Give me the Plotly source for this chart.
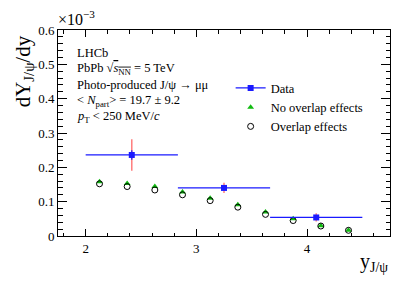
import plotly.graph_objects as go

# Data (values in units of 1e-3)
data_x = [2.4167, 3.25, 4.0833]
data_xerr = [0.4167, 0.4167, 0.4167]
data_y = [0.236, 0.140, 0.054]
data_stat = [0.014, 0.006, 0.004]
data_syst = [0.046, 0.015, 0.012]

model_x = [2.125, 2.375, 2.625, 2.875, 3.125, 3.375, 3.625, 3.875, 4.125, 4.375]
no_overlap_y = [0.158, 0.153, 0.144, 0.128, 0.110, 0.091, 0.070, 0.050, 0.030, 0.017]
overlap_y = [0.152, 0.144, 0.134, 0.120, 0.103, 0.084, 0.063, 0.045, 0.029, 0.0166]

FONT = "Liberation Serif"
BLUE = "#1a1aff"
RED = "rgba(255,70,70,0.7)"
GREEN = "#11bb11"

fig = go.Figure()

# legend proxy for Data (line + marker, like the ROOT legend entry)
fig.add_trace(go.Scatter(
    x=[None], y=[None], mode="lines+markers", name="Data",
    line=dict(color=BLUE, width=1.2),
    marker=dict(symbol="square", size=6, color=BLUE)))

# systematic (red) error bars
fig.add_trace(go.Scatter(
    x=data_x, y=data_y, mode="markers", showlegend=False,
    marker=dict(size=1, color="rgba(0,0,0,0)"),
    error_y=dict(type="data", array=data_syst, color=RED, thickness=1.5, width=0),
    hoverinfo="skip"))

fig.add_trace(go.Scatter(
    x=model_x, y=no_overlap_y, mode="markers", name="No overlap effects",
    marker=dict(symbol="triangle-up", size=6, color=GREEN, line=dict(width=0))))

fig.add_trace(go.Scatter(
    x=model_x, y=overlap_y, mode="markers", name="Overlap effects",
    marker=dict(symbol="circle-open", size=6, color="black", line=dict(width=1, color="black"))))

# data with x bin widths and stat errors
fig.add_trace(go.Scatter(
    x=data_x, y=data_y, mode="markers", name="Data", showlegend=False,
    marker=dict(symbol="square", size=6, color=BLUE),
    error_x=dict(type="data", array=data_xerr, color=BLUE, thickness=1.2, width=0),
    error_y=dict(type="data", array=data_stat, color=BLUE, thickness=1.2, width=0)))

axis_common = dict(
    showline=True, linecolor="black", linewidth=1, mirror="allticks",
    ticks="inside", showgrid=False, zeroline=False,
    tickfont=dict(family=FONT, size=13, color="black"),
    tickcolor="black",
)

fig.update_xaxes(range=[1.75, 4.75], dtick=1, tick0=0, ticklen=7,
                 minor=dict(dtick=0.2, tick0=0, ticklen=3.5, ticks="inside", tickcolor="black"),
                 **axis_common)
fig.update_yaxes(range=[0, 0.6], dtick=0.1, tick0=0, ticklen=9,
                 minor=dict(dtick=0.02, tick0=0, ticklen=4.5, ticks="inside", tickcolor="black"),
                 **axis_common)

ann = []
ann.append(dict(text="dY<sub>J/ψ</sub>/dy", x=-0.102, y=0.80, xref="paper", yref="paper",
                textangle=-90, showarrow=False, xanchor="center", yanchor="middle",
                font=dict(family=FONT, size=21, color="black")))
ann.append(dict(text="y<sub>J/ψ</sub>", x=1.0, y=-0.13, xref="paper", yref="paper",
                showarrow=False, xanchor="right", yanchor="middle",
                font=dict(family=FONT, size=20, color="black")))
ann.append(dict(text="×10<sup>−3</sup>", x=-0.005, y=1.0, xref="paper", yref="paper",
                showarrow=False, xanchor="left", yanchor="bottom",
                font=dict(family=FONT, size=16, color="black")))

lines = [
    "LHCb",
    "PbPb √<span style='text-decoration:overline'><i>s</i><sub>NN</sub></span> = 5 TeV",
    "Photo-produced J/ψ → μμ",
    "< <i>N</i><sub>part</sub>> = 19.7 ± 9.2",
    "<i>p</i><sub>T</sub> < 250 MeV/<i>c</i>",
]
ys_px = [53, 69, 85, 101, 117]
for t, yp in zip(lines, ys_px):
    ann.append(dict(text=t, x=(75 - 58) / 332, y=(236 - yp) / 206, xref="paper", yref="paper",
                    showarrow=False, xanchor="left", yanchor="middle",
                    font=dict(family=FONT, size=12.5, color="black")))

# page body adds an 8px offset; margins compensate so the frame sits at x 58-390, y 30-236
fig.update_layout(
    width=415, height=284,
    margin=dict(l=50, r=33, t=22, b=56),
    paper_bgcolor="white", plot_bgcolor="white",
    annotations=ann,
    showlegend=True,
    legend=dict(x=0.52, y=0.79, xanchor="left", yanchor="top",
                bgcolor="rgba(0,0,0,0)", traceorder="normal",
                font=dict(family=FONT, size=12.5, color="black"),
                itemwidth=30, tracegroupgap=0),
)

fig.write_html("out.html")
